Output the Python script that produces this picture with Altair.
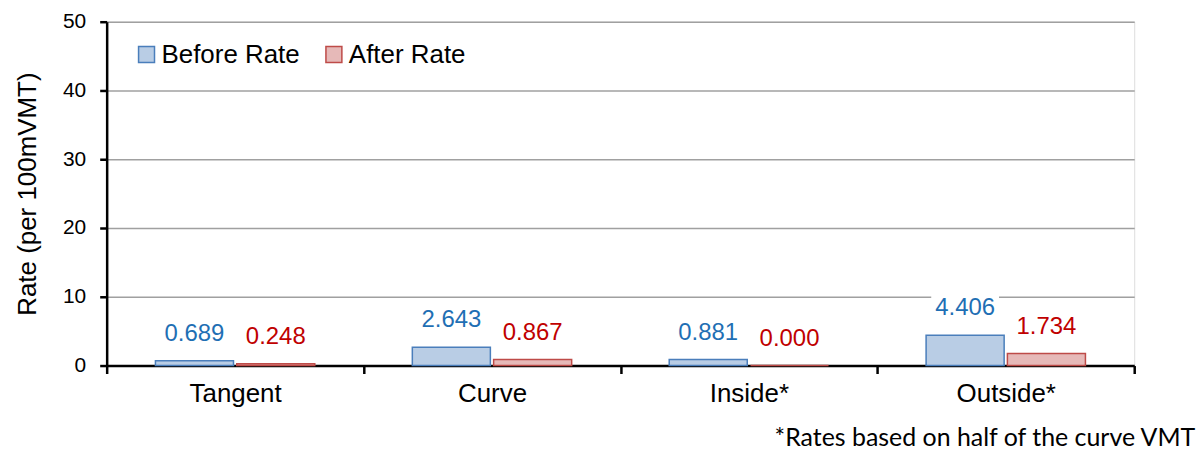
import altair as alt
import pandas as pd

categories = ["Tangent", "Curve", "Inside*", "Outside*"]
series = ["Before Rate", "After Rate"]
before_rate = [0.689, 2.643, 0.881, 4.406]
after_rate = [0.248, 0.867, 0.000, 1.734]
y_ticks = [0, 10, 20, 30, 40, 50]
footnote = "*Rates based on half of the curve VMT"

fill_colors = ["#b9cde5", "#e6b9b8"]
stroke_colors = ["#4a7ebb", "#be4b48"]
label_colors = ["#1f6fb4", "#c00000"]

rows = []
for c, b, a in zip(categories, before_rate, after_rate):
    rows.append({"cat": c, "series": series[0], "value": b, "label": f"{b:.3f}"})
    rows.append({"cat": c, "series": series[1], "value": a, "label": f"{a:.3f}"})
df = pd.DataFrame(rows)

x = alt.X(
    "cat:N",
    sort=categories,
    scale=alt.Scale(paddingInner=0, paddingOuter=0),
    axis=alt.Axis(
        title=None,
        tickBand="extent",
        labelAngle=0,
        labelFontSize=26,
        labelFont="Liberation Sans",
        labelColor="black",
        labelPadding=7,
        domainColor="black",
        domainWidth=2.5,
        tickColor="black",
        tickWidth=2.5,
        tickSize=8,
        grid=False,
    ),
)
xo = alt.XOffset(
    "series:N",
    sort=series,
    scale=alt.Scale(domain=series, paddingInner=0.04, paddingOuter=0.6),
)
y = alt.Y(
    "value:Q",
    scale=alt.Scale(domain=[0, 50], nice=False),
    axis=alt.Axis(
        values=y_ticks,
        title="Rate (per 100mVMT)",
        titleFontSize=26,
        titleFont="Liberation Sans",
        titleFontWeight="normal",
        titleColor="black",
        titlePadding=22,
        labelFontSize=21,
        labelFont="Liberation Sans",
        labelColor="black",
        labelPadding=14,
        domainColor="black",
        domainWidth=2.5,
        tickColor="black",
        tickWidth=2.5,
        tickSize=7,
        grid=True,
        gridColor="#a0a0a0",
        gridWidth=1.5,
    ),
)

legend = alt.Legend(
    title=None,
    orient="none",
    legendX=27,
    legendY=20,
    direction="horizontal",
    symbolType="square",
    symbolSize=256,
    symbolStrokeWidth=1.5,
    labelFontSize=26,
    labelFont="Liberation Sans",
    labelColor="black",
    labelOffset=2,
    columnPadding=21,
)

bars = alt.Chart(df).mark_bar(strokeWidth=1.5).encode(
    x=x,
    xOffset=xo,
    y=y,
    fill=alt.Fill("series:N", sort=series,
                  scale=alt.Scale(domain=series, range=fill_colors), legend=legend),
    stroke=alt.Stroke("series:N", sort=series,
                      scale=alt.Scale(domain=series, range=stroke_colors), legend=legend),
)

boxes = alt.Chart(df).mark_point(
    shape="M-1,-0.45H1V0.45H-1Z",
    filled=True,
    fill="white",
    opacity=1,
    strokeWidth=0,
    size=4624,
    yOffset=-27,
).encode(x=x, xOffset=xo, y=y)

labels = alt.Chart(df).mark_text(
    dy=-27,
    fontSize=24,
    font="Liberation Sans",
    baseline="middle",
).encode(
    x=x,
    xOffset=xo,
    y=y,
    text="label:N",
    color=alt.Color("series:N", sort=series,
                    scale=alt.Scale(domain=series, range=label_colors), legend=None),
)

chart = (
    alt.layer(bars, boxes, labels)
    .resolve_scale(color="independent")
    .properties(
        width=1031,
        height=345,
        padding={"left": 6, "top": 2, "right": 0, "bottom": 0},
        title=alt.TitleParams(
            footnote,
            orient="bottom",
            anchor="end",
            fontSize=25,
            font="Lato",
            fontWeight="normal",
            color="black",
            offset=20,
            dx=60,
        ),
    )
    .configure_view(stroke=None)
    .configure(background="white")
)

chart.save("out.html", embed_options={"renderer": "svg", "actions": False})
